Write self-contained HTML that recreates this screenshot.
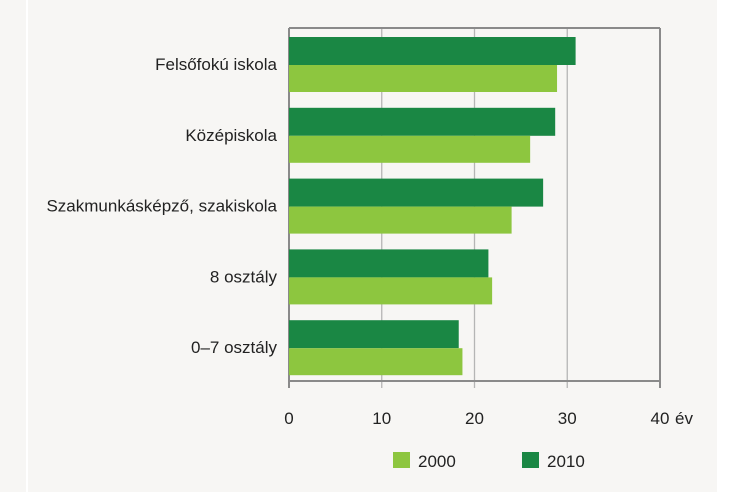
<!DOCTYPE html>
<html><head><meta charset="utf-8"><style>
body{margin:0;width:744px;height:492px;background:#f7f6f4;font-family:"Liberation Sans",sans-serif;overflow:hidden}
svg{display:block}
</style></head><body>
<svg width="744" height="492" id="svg" font-family="Liberation Sans, sans-serif">
<rect x="26" y="0" width="2" height="492" fill="#fff"/>
<rect x="717" y="0" width="27" height="492" fill="#fff"/>
<g id="grid"></g><g id="bars"></g><g id="axes"></g>
<g>
<rect x="393" y="452" width="17" height="16" fill="#8dc63f"/>
<text x="418" y="467" font-size="17" fill="#222">2000</text>
<rect x="522" y="452" width="17" height="16" fill="#1a8744"/>
<text x="547" y="467" font-size="17" fill="#222">2010</text>
</g>
</svg>
<script>
const categories=["Felsőfokú iskola","Középiskola","Szakmunkásképző, szakiskola","8 osztály","0–7 osztály"];
const values2010=[30.9,28.7,27.4,21.5,18.3];
const values2000=[28.9,26.0,24.0,21.9,18.7];
const ticks=[0,10,20,30,40];
const NS="http://www.w3.org/2000/svg";
const x0=289,x1=660,yTop=28,yBot=381,xMax=40;
const xs=v=>x0+v/xMax*(x1-x0);
const bandStart=37,bandStep=70.8,barH=27;
function mk(t,a,p){const e=document.createElementNS(NS,t);for(const k in a)e.setAttribute(k,a[k]);p.appendChild(e);return e;}
const grid=document.getElementById('grid'),bars=document.getElementById('bars'),axes=document.getElementById('axes');
ticks.forEach((t,i)=>{
 const g=mk('line',{x1:xs(t),x2:xs(t),y1:yTop,y2:yBot+7,stroke:i===0||i===ticks.length-1?'#8a8a8a':'#b5b5b5','stroke-width':i===0||i===ticks.length-1?2:1.3},grid);
 
 
 const l=mk('text',{x:xs(t),y:424,'font-size':17,'text-anchor':'middle',fill:'#222'},axes);l.textContent=t;
 
 
});
const topBorder=mk('line',{x1:x0,x2:x1,y1:yTop,y2:yTop,stroke:'#8a8a8a','stroke-width':2},grid);


const bot=mk('line',{x1:x0,x2:x1,y1:yBot,y2:yBot,stroke:'#8a8a8a','stroke-width':2},grid);


const ev=mk('text',{x:684,y:424,'font-size':17,'text-anchor':'middle',fill:'#222'},axes);ev.textContent='év';


categories.forEach((c,i)=>{
 const y=bandStart+i*bandStep;
 const d=mk('rect',{x:x0,y:y,width:xs(values2010[i])-x0,height:barH+1,fill:'#1a8744'},bars);
 
 
 const l=mk('rect',{x:x0,y:y+barH+1,width:xs(values2000[i])-x0,height:barH,fill:'#8dc63f'},bars);
 
 
 const t=mk('text',{x:277,y:y+barH+6,'font-size':17,'text-anchor':'end',fill:'#222'},axes);t.textContent=c;
 
 
});
</script>
</body></html>
